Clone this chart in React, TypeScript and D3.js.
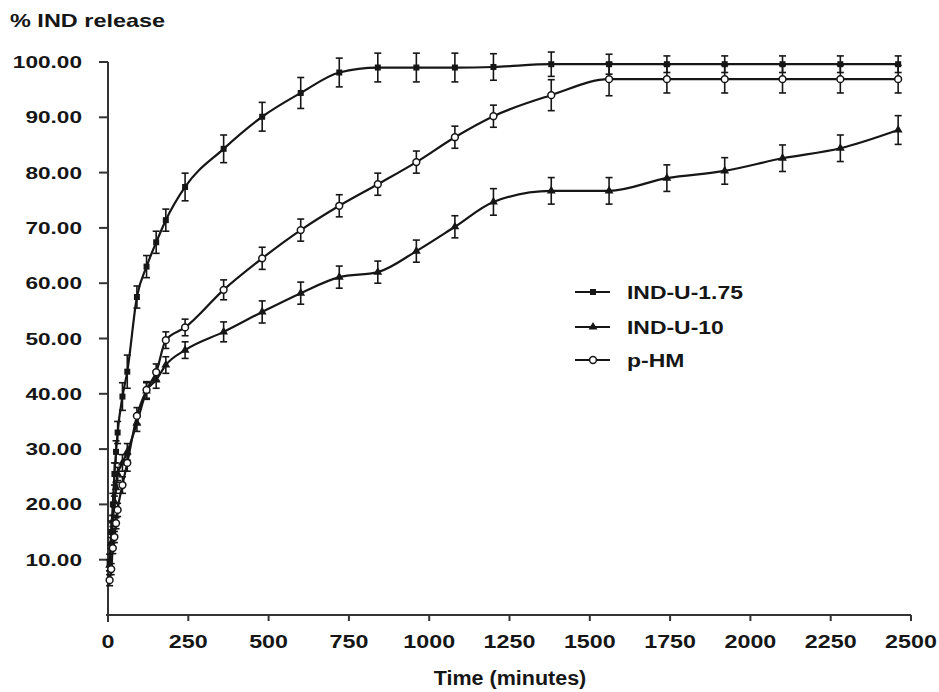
import React from 'react';
import * as d3 from 'd3';

// sampling times (minutes)
const times = [5, 10, 15, 20, 25, 30, 45, 60, 90, 120, 150, 180, 240, 360, 480, 600, 720, 840, 960, 1080, 1200, 1380, 1560, 1740, 1920, 2100, 2280, 2460];

const ind175 = [9.5, 15, 20, 25.5, 29.5, 33, 39.5, 44, 57.5, 63, 67.4, 71.4, 77.4, 84.3, 90.1, 94.4, 98.1, 99.0, 99.0, 99.0, 99.1, 99.6, 99.6, 99.6, 99.6, 99.6, 99.6, 99.6];
const ind175Err = [1.5, 2, 2, 2, 2, 2, 2.5, 3, 2, 2, 2, 2, 2.5, 2.5, 2.6, 2.8, 2.6, 2.6, 2.6, 2.6, 2.4, 2.2, 1.8, 1.5, 1.5, 1.5, 1.5, 1.5];

const ind10 = [9, 13, 17, 20.5, 23, 25.5, 27.5, 29.5, 34.7, 40.5, 42.5, 45.2, 47.9, 51.2, 54.8, 58.2, 61.1, 62.0, 65.8, 70.2, 74.7, 76.7, 76.7, 79.0, 80.3, 82.6, 84.4, 87.7];
const ind10Err = [1, 1, 1, 1, 1, 1.2, 1.5, 1.5, 1.5, 1.5, 1.5, 1.5, 1.5, 1.8, 2, 2, 2, 2, 2, 2, 2.4, 2.4, 2.4, 2.4, 2.4, 2.4, 2.4, 2.6];

const pHM = [6.3, 8.3, 12.1, 14.1, 16.6, 19, 23.5, 27.5, 36, 40.7, 43.9, 49.7, 52, 58.8, 64.5, 69.6, 74.0, 77.9, 81.9, 86.4, 90.2, 94.0, 96.9, 96.9, 96.9, 96.9, 96.9, 96.9];
const pHMErr = [1, 1, 1, 1, 1, 1.2, 1.5, 1.5, 1.5, 1.5, 1.5, 1.5, 1.5, 1.8, 2, 2, 2, 2, 2, 2, 2, 2.8, 3, 2.5, 2.5, 2.5, 2.5, 2.5];

const xTicks = [0, 250, 500, 750, 1000, 1250, 1500, 1750, 2000, 2250, 2500];
const yTicks = [10, 20, 30, 40, 50, 60, 70, 80, 90, 100];

const series = [
  { name: 'IND-U-1.75', values: ind175, err: ind175Err, marker: 'square' },
  { name: 'IND-U-10', values: ind10, err: ind10Err, marker: 'triangle' },
  { name: 'p-HM', values: pHM, err: pHMErr, marker: 'circle' },
];

const W = 939;
const H = 692;
const ink = '#161616';
const font = '"Liberation Sans", Arial, sans-serif';

const x = d3.scaleLinear().domain([0, 2500]).range([108, 911]);
const y = d3.scaleLinear().domain([0, 100]).range([615, 62]);

// stretched bold text, the original figure is widened horizontally
const SText = ({ tx, ty, sx, size, anchor = 'start', children }: any) => (
  <text
    transform={`translate(${tx},${ty}) scale(${sx},1)`}
    textAnchor={anchor}
    fontFamily={font}
    fontWeight="bold"
    fontSize={size}
    fill={ink}
  >
    {children}
  </text>
);

const Marker = ({ type, cx, cy }: any) => {
  if (type === 'square') return <rect x={cx - 3} y={cy - 3} width={6} height={6} fill={ink} />;
  if (type === 'triangle') {
    const p = d3.symbol(d3.symbolTriangle, 34)();
    return <path d={p || ''} transform={`translate(${cx},${cy})`} fill={ink} />;
  }
  return <circle cx={cx} cy={cy} r={3.4} fill="#fff" stroke={ink} strokeWidth={1.5} />;
};

export default function App() {
  const line = d3
    .line<number>()
    .x((_, i) => x(times[i]))
    .y((v) => y(v))
    .curve(d3.curveMonotoneX);

  return (
    <svg width={W} height={H} style={{ position: 'absolute', left: 0, top: 0, background: '#fff' }}>
      {/* axis titles */}
      <SText tx={10} ty={27} sx={1.34} size={17.5}>% IND release</SText>
      <SText tx={510} ty={685} sx={1.05} size={20.5} anchor="middle">Time (minutes)</SText>

      {/* y axis */}
      <line x1={x(0)} x2={x(0)} y1={y(100)} y2={622} stroke="#333" strokeWidth={2} />
      {yTicks.map((t) => (
        <g key={t}>
          <line x1={x(0) - 9} x2={x(0)} y1={y(t)} y2={y(t)} stroke="#333" strokeWidth={2} />
          <SText tx={82} ty={y(t) + 6} sx={1.33} size={17} anchor="end">{t.toFixed(2)}</SText>
        </g>
      ))}

      {/* x axis */}
      <line x1={x(0) - 2} x2={x(2500)} y1={y(0)} y2={y(0)} stroke="#333" strokeWidth={2} />
      {xTicks.map((t) => (
        <g key={t}>
          <line x1={x(t)} x2={x(t)} y1={y(0)} y2={y(0) + 6} stroke="#333" strokeWidth={2} />
          <SText tx={x(t)} ty={647.5} sx={1.26} size={18.5} anchor="middle">{t}</SText>
        </g>
      ))}

      {/* series */}
      {series.map((s) => (
        <g key={s.name}>
          <path d={line(s.values) || ''} fill="none" stroke={ink} strokeWidth={2.2} />
          {s.values.map((v, i) => {
            const cx = x(times[i]);
            const top = y(v + s.err[i]);
            const bot = y(v - s.err[i]);
            return (
              <g key={i} stroke={ink} strokeWidth={1.6}>
                <line x1={cx} x2={cx} y1={top} y2={bot} />
                <line x1={cx - 3.5} x2={cx + 3.5} y1={top} y2={top} />
                <line x1={cx - 3.5} x2={cx + 3.5} y1={bot} y2={bot} />
              </g>
            );
          })}
          {s.values.map((v, i) => (
            <Marker key={i} type={s.marker} cx={x(times[i])} cy={y(v)} />
          ))}
        </g>
      ))}

      {/* legend */}
      {series.map((s, i) => {
        const ly = [292, 327, 360][i];
        return (
          <g key={s.name}>
            <line x1={575} x2={610} y1={ly} y2={ly} stroke={ink} strokeWidth={2.2} />
            <Marker type={s.marker} cx={593} cy={ly} />
            <SText tx={627} ty={ly + 6.5} sx={1.24} size={18.5}>{s.name}</SText>
          </g>
        );
      })}
    </svg>
  );
}
